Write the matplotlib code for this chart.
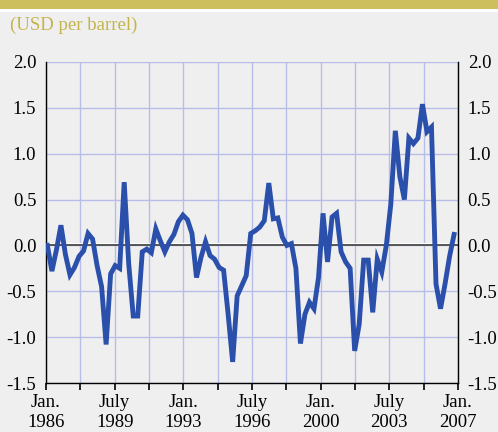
import numpy as np
import matplotlib.pyplot as plt
from matplotlib.patches import Rectangle

plt.rcParams['font.family'] = ['Liberation Serif', 'DejaVu Serif']

# 数据: 91 个点, 1986 年初至 2006 年末
start_year = 1986.07
end_year = 2006.8
values = [0.0, -0.28, -0.05, 0.22, -0.1, -0.32, -0.24, -0.12, -0.06, 0.13,
          0.07, -0.22, -0.45, -1.08, -0.31, -0.22, -0.25, 0.69, -0.2, -0.77,
          -0.77, -0.07, -0.04, -0.08, 0.18, 0.05, -0.07, 0.04, 0.12, 0.26,
          0.33, 0.28, 0.13, -0.35, -0.13, 0.04, -0.11, -0.15, -0.24, -0.27,
          -0.75, -1.27, -0.55, -0.44, -0.33, 0.13, 0.16, 0.2, 0.27, 0.68,
          0.29, 0.3, 0.09, 0.0, 0.02, -0.25, -1.07, -0.75, -0.62, -0.69,
          -0.35, 0.35, -0.18, 0.31, 0.35, -0.07, -0.18, -0.25, -1.15, -0.86,
          -0.16, -0.16, -0.73, -0.15, -0.29, 0.0, 0.45, 1.25, 0.75, 0.5,
          1.17, 1.11, 1.17, 1.54, 1.24, 1.29, -0.42, -0.69, -0.42, -0.12,
          0.12]
dates = np.linspace(start_year, end_year, len(values))

tick_pos = [1986 + 1.75 * k for k in range(13)]
tick_labels = ['Jan.\n1986', '', 'July\n1989', '', 'Jan.\n1993', '', 'July\n1996', '',
               'Jan.\n2000', '', 'July\n2003', '', 'Jan.\n2007']
y_ticks = [-1.5, -1.0, -0.5, 0.0, 0.5, 1.0, 1.5, 2.0]
y_labels = ['-1.5', '-1.0', '-0.5', '0.0', '0.5', '1.0', '1.5', '2.0']

bg = '#efefef'
fs = 13.5
fig = plt.figure(figsize=(4.98, 4.32), dpi=100, facecolor=bg)

# 顶部色条
fig.patches.append(Rectangle((0, 1 - 9 / 432), 1, 9 / 432, transform=fig.transFigure,
                             facecolor='#cdbf5e', edgecolor='none'))
fig.patches.append(Rectangle((0, 1 - 12 / 432), 1, 3 / 432, transform=fig.transFigure,
                             facecolor='white', edgecolor='none'))
fig.text(10 / 498, 1 - 25 / 432, '(USD per barrel)', color='#c4b44c', fontsize=fs,
         va='center', ha='left')

ax = fig.add_axes([46 / 498, 1 - 383 / 432, 412 / 498, 321 / 432], facecolor=bg)
ax.plot(dates, values, color='#2b50ab', lw=3.5, solid_joinstyle='miter', zorder=3)
ax.axhline(0.014, color='white', lw=1.5, zorder=1.5)
ax.axhline(0.0, color='#555555', lw=1.4, zorder=2)

ax.set_xlim(1986, 2007)
ax.set_ylim(-1.5, 2.0)
ax.set_xticks(tick_pos)
ax.set_xticklabels(tick_labels, fontsize=fs, linespacing=1.25)
ax.set_yticks(y_ticks)
ax.set_yticklabels(y_labels, fontsize=fs)
ax.grid(True, color='#b7bde8', lw=1.0, zorder=0)
ax.set_axisbelow(True)

ax.tick_params(axis='x', direction='out', length=5, width=1.2, color='black', pad=3)
ax.tick_params(axis='y', length=0, pad=7, labelright=True)
for s in ['left', 'right', 'bottom']:
    ax.spines[s].set_color('black')
    ax.spines[s].set_linewidth(1.0)
ax.spines['top'].set_visible(False)

fig.savefig('out.png', dpi=100, facecolor=bg)
